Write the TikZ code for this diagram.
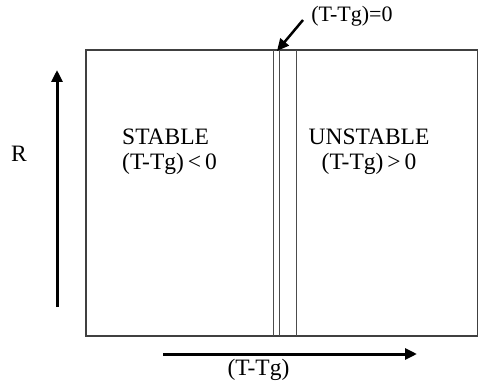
\documentclass[tikz,border=0pt]{standalone}
\usepackage{fontspec}
\setmainfont{Liberation Serif}
\usetikzlibrary{arrows.meta}
\begin{document}
\begin{tikzpicture}[x=1pt,y=-1pt,
  lbl/.style={font=\fontsize{23.5}{25}\selectfont, inner sep=0pt, align=center},
  frame/.style={draw=black!75, line width=1.3pt},
  thinline/.style={draw=black!70, line width=0.9pt},
  axis/.style={draw=black, line width=3pt, -{Triangle[length=12pt,width=11pt]}}]
\useasboundingbox (0,0) rectangle (479,385);
\draw[frame] (86,50) rectangle (477.5,336);
\draw[thinline] (273,50) -- (273,336);
\draw[thinline] (279,50) -- (279,336);
\draw[thinline] (296,50) -- (296,336);
\node[lbl, align=left, anchor=west] (stable) at (122,152) {STABLE\\(T-Tg)\,<\,0};
\node[lbl] (unstable) at (369,152) {UNSTABLE\\(T-Tg)\,>\,0};
\node[lbl] (R) at (19,154) {R};
\node[lbl] (xlab) at (258.5,370) {(T-Tg)};
\node[lbl, font=\fontsize{22}{25}\selectfont] (zero) at (352,16) {(T-Tg)=0};
\coordinate (rb) at (57,307);
\coordinate (rt) at (57,70);
\coordinate (xl) at (163,354);
\coordinate (xr) at (417,354);
\coordinate (zt) at (303,20);
\coordinate (zh) at (277,51);
\draw[axis] (rb) -- (rt);
\draw[axis] (xl) -- (xr);
\draw[axis, line width=2.5pt] (zt) -- (zh);
\end{tikzpicture}
\end{document}
